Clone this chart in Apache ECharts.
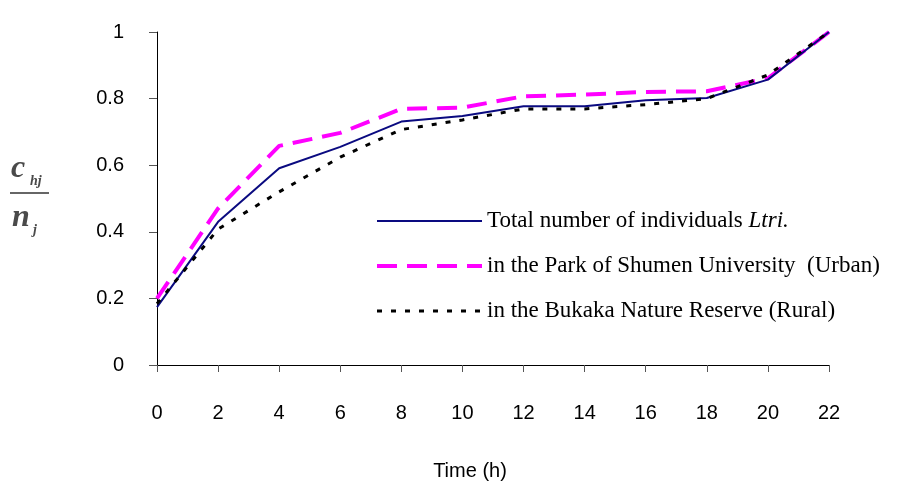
<!DOCTYPE html>
<html>
<head>
<meta charset="utf-8">
<script src="https://cdn.jsdelivr.net/npm/echarts@6/dist/echarts.min.js"></script>
<style>
  html, body { margin: 0; padding: 0; background: #fff; }
  #chart { width: 897px; height: 486px; }
</style>
</head>
<body>
<div id="chart"></div>
<script>
// Sampling times (hours)
const hours = ['0', '2', '4', '6', '8', '10', '12', '14', '16', '18', '20', '22'];

// Cumulative share c_hj / n_j
const totalLtri = [0.174, 0.43, 0.591, 0.655, 0.731, 0.748, 0.777, 0.777, 0.795, 0.802, 0.857, 1.0];
const urbanPark = [0.2, 0.47, 0.658, 0.697, 0.769, 0.773, 0.807, 0.812, 0.82, 0.822, 0.861, 1.0];
const ruralReserve = [0.184, 0.408, 0.52, 0.624, 0.707, 0.736, 0.769, 0.769, 0.782, 0.8, 0.871, 1.0];

const seriesNames = [
  'Total number of individuals Ltri.',
  'in the Park of Shumen University  (Urban)',
  'in the Bukaka Nature Reserve (Rural)'
];

const chart = echarts.init(document.getElementById('chart'));

const fracColor = '#4a4a4a';
const serif = '"Liberation Serif", "Times New Roman", serif';
const sans = '"Liberation Sans", Arial, sans-serif';

const styles = [
  { color: '#0a0a80', width: 2, type: 'solid' },
  { color: '#ff00ff', width: 4, type: [20, 10] },
  { color: '#000000', width: 3, type: [5, 9] }
];

chart.setOption({
  animation: false,
  backgroundColor: '#ffffff',
  grid: { left: 157, right: 68, top: 32, bottom: 114, containLabel: false },
  legend: {
    orient: 'vertical',
    left: 370,
    top: 203,
    itemWidth: 105,
    itemHeight: 14,
    itemGap: 19,
    data: seriesNames.map(function (n, i) {
      return { name: n, lineStyle: { width: styles[i].width, type: styles[i].type, color: styles[i].color } };
    }),
    // keep only the line sample in each legend key
    itemStyle: { opacity: 0 },
    textStyle: {
      fontFamily: serif,
      fontSize: 23,
      color: '#000',
      lineHeight: 26,
      rich: {
        it: { fontFamily: serif, fontSize: 23, fontStyle: 'italic', color: '#000' }
      }
    },
    formatter: function (name) {
      return name === seriesNames[0] ? 'Total number of individuals {it|Ltri.}' : name;
    }
  },
  xAxis: {
    type: 'category',
    data: hours,
    boundaryGap: false,
    name: 'Time (h)',
    nameLocation: 'middle',
    nameGap: 96,
    nameTextStyle: {
      fontFamily: sans,
      fontSize: 20,
      color: '#000',
      padding: [0, 46, 0, 0]
    },
    axisLine: { lineStyle: { color: '#000', width: 1 } },
    axisTick: { alignWithLabel: true, length: 7, lineStyle: { color: '#555' } },
    axisLabel: {
      margin: 38,
      fontFamily: sans,
      fontSize: 20,
      color: '#000'
    },
    splitLine: { show: false }
  },
  yAxis: {
    type: 'value',
    min: 0,
    max: 1,
    interval: 0.2,
    axisLine: { show: true, lineStyle: { color: '#000', width: 1 } },
    axisTick: { show: true, length: 8, lineStyle: { color: '#555' } },
    axisLabel: {
      margin: 33,
      fontFamily: sans,
      fontSize: 20,
      color: '#000',
      padding: [0, 0, 10, 0]
    },
    splitLine: { show: false }
  },
  series: [
    {
      name: seriesNames[0],
      type: 'line',
      data: totalLtri,
      symbol: 'none',
      z: 3,
      lineStyle: styles[0],
      itemStyle: { color: styles[0].color }
    },
    {
      name: seriesNames[1],
      type: 'line',
      data: urbanPark,
      symbol: 'none',
      z: 2,
      lineStyle: styles[1],
      itemStyle: { color: styles[1].color }
    },
    {
      name: seriesNames[2],
      type: 'line',
      data: ruralReserve,
      symbol: 'none',
      z: 4,
      lineStyle: styles[2],
      itemStyle: { color: styles[2].color }
    }
  ],
  graphic: [
    // y-axis title: c_hj / n_j as a fraction
    {
      type: 'text', left: 11, top: 153,
      style: { text: 'c', fontFamily: serif, fontSize: 32, fontStyle: 'italic', fontWeight: 'bold', fill: fracColor, shadowBlur: 2, shadowColor: 'rgba(80,80,80,0.5)' }
    },
    {
      type: 'text', left: 30, top: 174,
      style: { text: 'hj', fontFamily: serif, fontSize: 14, fontStyle: 'italic', fontWeight: 'bold', fill: fracColor }
    },
    {
      type: 'line',
      shape: { x1: 10, y1: 193, x2: 49, y2: 193 },
      style: { stroke: '#666', lineWidth: 2 }
    },
    {
      type: 'text', left: 12, top: 202,
      style: { text: 'n', fontFamily: serif, fontSize: 32, fontStyle: 'italic', fontWeight: 'bold', fill: fracColor, shadowBlur: 2, shadowColor: 'rgba(80,80,80,0.5)' }
    },
    {
      type: 'text', left: 33, top: 223,
      style: { text: 'j', fontFamily: serif, fontSize: 14, fontStyle: 'italic', fontWeight: 'bold', fill: fracColor }
    }
  ]
});
</script>
</body>
</html>
